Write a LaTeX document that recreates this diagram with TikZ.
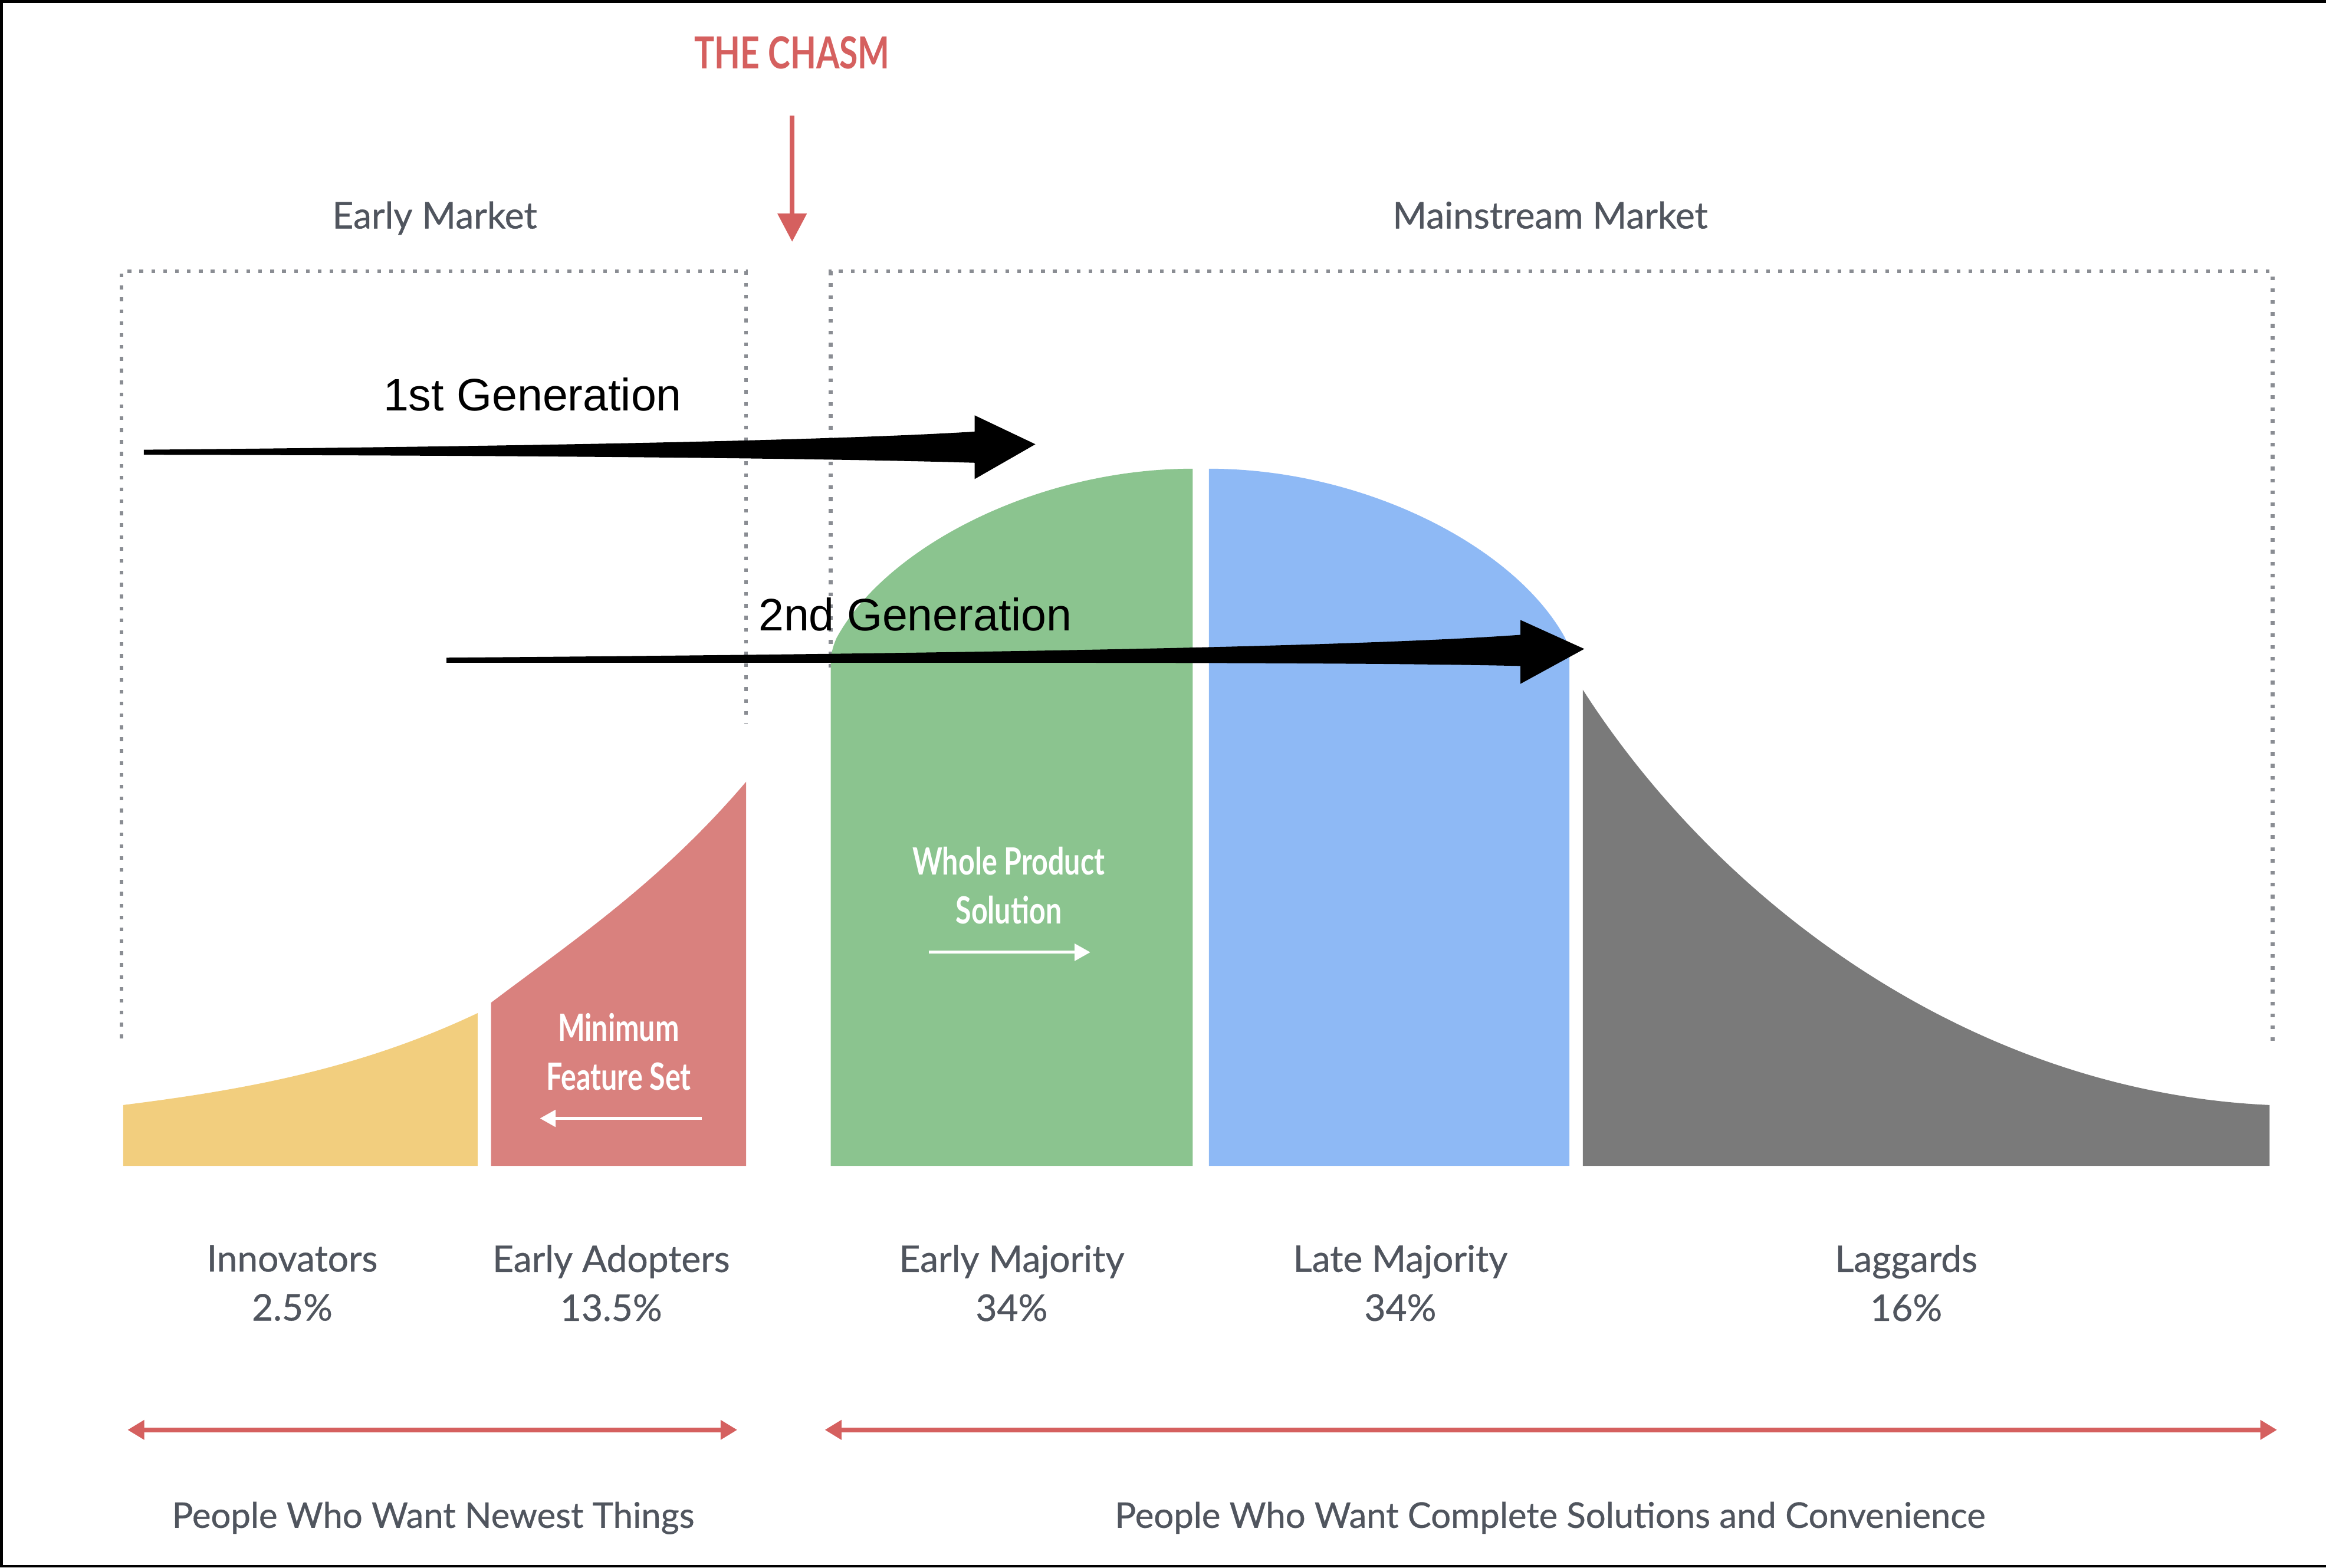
\documentclass[tikz,border=0pt]{standalone}
\usepackage{fontspec}
\usetikzlibrary{arrows.meta}
\setmainfont{Lato}[FakeBold=0.6]
\newfontfamily\condfont{Lato}[FakeStretch=0.76]
\newfontfamily\genfont{Liberation Sans}

\definecolor{chasmred}{HTML}{D5605F}
\definecolor{labelgray}{HTML}{50555E}
\definecolor{dotgray}{HTML}{8A8D93}
\definecolor{innoyellow}{HTML}{F2CE7E}
\definecolor{adoptred}{HTML}{D9817E}
\definecolor{earlygreen}{HTML}{8BC48F}
\definecolor{lateblue}{HTML}{8EB9F5}
\definecolor{laggray}{HTML}{7A7A7A}

\newcommand\lblsize{\fontsize{17.6}{23.5}\selectfont}

\tikzset{
  lbl/.style={text=labelgray, font=\lblsize, align=center, inner sep=0pt},
  wlbl/.style={text=white, font=\condfont\bfseries\fontsize{18}{23.5}\selectfont, align=center, inner sep=0pt},
  gen/.style={font=\genfont\fontsize{21.8}{26}\selectfont, inner sep=0pt},
  dotline/.style={dotgray, line width=1.8pt, dash pattern=on 1.8pt off 3.9pt},
  redarrow/.style={chasmred, line width=2.3pt, {Triangle[length=8pt,width=9pt]}-{Triangle[length=8pt,width=9pt]}},
  whitearrow/.style={white, line width=1.4pt, -{Triangle[length=7.5pt,width=8pt]}}
}

\begin{document}
\begin{tikzpicture}[x=0.025cm, y=-0.025cm]
\useasboundingbox (0,0) rectangle (1568,1057);
\fill[white] (0,0) rectangle (1568,1057);

% Cornice
\draw[line width=1.2pt] (1568,1) -- (1,1) -- (1,1056) -- (1568,1056);

% Titolo e freccia
\node[anchor=base, text=chasmred, inner sep=0pt, font=\condfont\bfseries\fontsize{21.2}{25}\selectfont] (chasm) at (534,46.5) {THE CHASM};
\coordinate (chasmtop) at (534,78);
\coordinate (chasmtip) at (534,163);
\draw[chasmred, line width=2.3pt, -{Triangle[length=13.5pt,width=13.5pt]}] (chasmtop) -- (chasmtip);

% Mercati
\node[lbl, anchor=base] (earlymkt) at (293,154) {Early Market};
\node[lbl, anchor=base] (mainmkt) at (1045,154) {Mainstream Market};
\draw[dotline] (82,700) -- (82,183) -- (503,183) -- (503,488);
\draw[dotline] (560,450) -- (560,183) -- (1532,183) -- (1532,702);

% Curva a campana
\fill[innoyellow] (83,786) -- (83,745) .. controls (163,735) and (242,721) .. (322,683) -- (322,786) -- cycle;
\fill[adoptred] (331,786) -- (331,676) .. controls (388,633) and (446,594) .. (503,527) -- (503,786) -- cycle;
\fill[earlygreen] (560,786) -- (560,450) .. controls (560,441) and (561,437) .. (564,430) .. controls (598,368) and (700,316) .. (804,316) -- (804,786) -- cycle;
\fill[lateblue] (815,786) -- (815,316) .. controls (919,316) and (1021,368) .. (1055,430) .. controls (1058,437) and (1058,441) .. (1058,450) -- (1058,786) -- cycle;
\fill[laggray] (1067,786) -- (1067,465) .. controls (1160,610) and (1330,736) .. (1530,745) -- (1530,786) -- cycle;

% Testi bianchi
\node[wlbl] (mfs) at (417,709) {Minimum\\Feature Set};
\coordinate (mfsr) at (473,754);
\coordinate (mfsl) at (364,754);
\draw[whitearrow] (mfsr) -- (mfsl);
\node[wlbl] (wps) at (680,597) {Whole Product\\Solution};
\coordinate (wpsl) at (626,642);
\coordinate (wpsr) at (735,642);
\draw[whitearrow] (wpsl) -- (wpsr);

% Generazioni
\node[gen, anchor=base] (gen1) at (359,277) {1st Generation};
\fill (97,303.2) .. controls (350,301) and (560,297) .. (657,291) -- (657,280) -- (698,299.5) -- (657,323) -- (657,312) .. controls (560,309) and (350,307) .. (97,306.6) -- cycle;
\node[gen, anchor=base] (gen2) at (617,425) {2nd Generation};
\fill (301,443.4) .. controls (600,441) and (900,437) .. (1025,428) -- (1025,418) -- (1068,437.5) -- (1025,461) -- (1025,449) .. controls (900,446) and (600,447) .. (301,446.8) -- cycle;

% Categorie
\node[lbl] (innov) at (197,865) {Innovators\\2.5\%};
\node[lbl] (adopt) at (412,865) {Early Adopters\\13.5\%};
\node[lbl] (earlymaj) at (682,865) {Early Majority\\34\%};
\node[lbl] (latemaj) at (944,865) {Late Majority\\34\%};
\node[lbl] (lagg) at (1285,865) {Laggards\\16\%};

% Frecce in basso
\coordinate (newl) at (86,964);
\coordinate (newr) at (497,964);
\coordinate (compl) at (556,964);
\coordinate (compr) at (1535,964);
\draw[redarrow] (newl) -- (newr);
\draw[redarrow] (compl) -- (compr);
\node[lbl, anchor=base, font=\fontsize{16.9}{20}\selectfont] (newest) at (292,1030) {People Who Want Newest Things};
\node[lbl, anchor=base, font=\fontsize{16.9}{20}\selectfont] (complete) at (1045,1030) {People Who Want Complete Solutions and Convenience};
\end{tikzpicture}
\end{document}
